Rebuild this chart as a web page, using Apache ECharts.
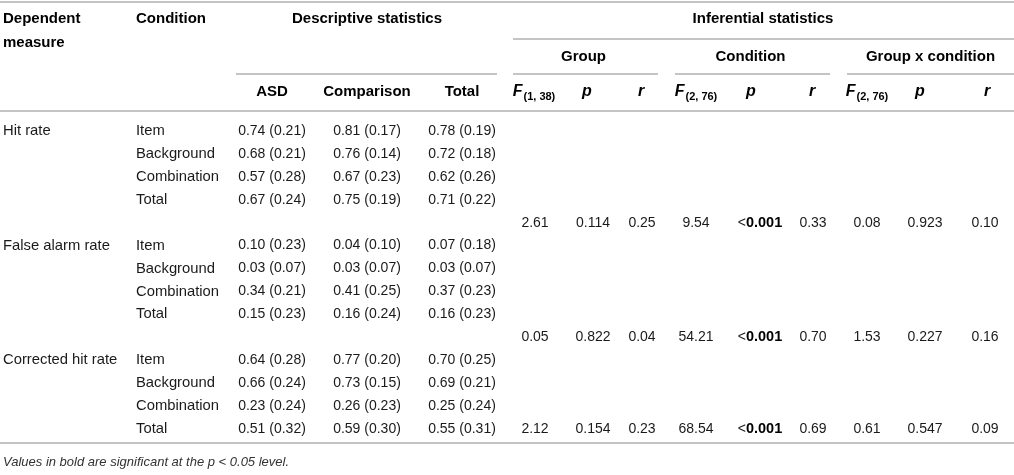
<!DOCTYPE html>
<html>
<head>
<meta charset="utf-8">
<script src="https://cdn.jsdelivr.net/npm/echarts@6/dist/echarts.min.js"></script>
<style>
  html, body { margin: 0; padding: 0; background: #fff; }
  #table { width: 1014px; height: 475px; }
</style>
</head>
<body>
<div id="table"></div>
<script>
// table values
var measures = ['Hit rate', 'False alarm rate', 'Corrected hit rate'];
var conditions = ['Item', 'Background', 'Combination', 'Total'];

// mean, sd per measure x condition
var asd = [
    [[0.74, 0.21], [0.68, 0.21], [0.57, 0.28], [0.67, 0.24]],
    [[0.10, 0.23], [0.03, 0.07], [0.34, 0.21], [0.15, 0.23]],
    [[0.64, 0.28], [0.66, 0.24], [0.23, 0.24], [0.51, 0.32]]
];
var comparison = [
    [[0.81, 0.17], [0.76, 0.14], [0.67, 0.23], [0.75, 0.19]],
    [[0.04, 0.10], [0.03, 0.07], [0.41, 0.25], [0.16, 0.24]],
    [[0.77, 0.20], [0.73, 0.15], [0.26, 0.23], [0.59, 0.30]]
];
var total = [
    [[0.78, 0.19], [0.72, 0.18], [0.62, 0.26], [0.71, 0.22]],
    [[0.07, 0.18], [0.03, 0.07], [0.37, 0.23], [0.16, 0.23]],
    [[0.70, 0.25], [0.69, 0.21], [0.25, 0.24], [0.55, 0.31]]
];

// F, p, r for group / condition / group x condition
var inferential = [
    ['2.61', '0.114', '0.25', '9.54', '<0.001', '0.33', '0.08', '0.923', '0.10'],
    ['0.05', '0.822', '0.04', '54.21', '<0.001', '0.70', '1.53', '0.227', '0.16'],
    ['2.12', '0.154', '0.23', '68.54', '<0.001', '0.69', '0.61', '0.547', '0.09']
];
var descHeaders = ['ASD', 'Comparison', 'Total'];
var effectHeaders = ['Group', 'Condition', 'Group x condition'];
var dfHeaders = ['(1, 38)', '(2, 76)', '(2, 76)'];
var footnote = 'Values in bold are significant at the p < 0.05 level.';

// layout
var FONT = '"Liberation Sans", Arial, Helvetica, sans-serif';
var LINE = '#c4c4c4';
var INK = '#1a1a1a';
var descX = [272, 367, 462];
var infX = [535, 593, 642, 696, 760, 813, 867, 925, 985];
var infHeadX = [534, 587, 641, 696, 751, 812, 867, 920, 987];
var effectSpan = [[513, 658], [675, 830], [847, 1014]];
var row0 = 131, rowStep = 22.92;
var infRow = [4, 9, 13];

var els = [];

function hline(x1, x2, y) {
    els.push({
        type: 'line',
        shape: { x1: x1, y1: y, x2: x2, y2: y },
        style: { stroke: LINE, lineWidth: 2 }
    });
}

function txt(s, x, y, align, opts) {
    opts = opts || {};
    els.push({
        type: 'text',
        x: x, y: y,
        style: {
            text: s,
            x: 0, y: 0,
            align: align,
            verticalAlign: 'middle',
            font: (opts.style || 'normal') + ' ' + (opts.weight || 'normal') + ' ' + (opts.size || 14) + 'px ' + FONT,
            fill: opts.color || INK
        }
    });
}

// rules
hline(0, 1014, 2);
hline(513, 1014, 39);
hline(236, 497, 74);
effectSpan.forEach(function (s) { hline(s[0], s[1], 74); });
hline(0, 1014, 111);
hline(0, 1014, 443);

// header
var hb = { weight: 'bold', color: '#000', size: 15 };
txt('Dependent', 3, 19, 'left', hb);
txt('measure', 3, 43, 'left', hb);
txt('Condition', 136, 19, 'left', hb);
txt('Descriptive statistics', 367, 19, 'center', hb);
txt('Inferential statistics', 763, 19, 'center', hb);
effectHeaders.forEach(function (h, i) {
    txt(h, (effectSpan[i][0] + effectSpan[i][1]) / 2 + (i === 2 ? 0 : -2), 57, 'center', hb);
});
descHeaders.forEach(function (h, i) { txt(h, descX[i], 92, 'center', hb); });

var fRich = {
    f: { fontFamily: FONT, fontSize: 16, fontWeight: 'bold', fontStyle: 'italic', fill: '#000', lineHeight: 18, verticalAlign: 'top' },
    s: { fontFamily: FONT, fontSize: 11, fontWeight: 'bold', fill: '#000', lineHeight: 18, verticalAlign: 'bottom', padding: [9, 0, 0, 1] }
};
for (var k = 0; k < 3; k++) {
    els.push({
        type: 'text',
        x: infHeadX[k * 3], y: 93,
        style: {
            text: '{f|F}{s|' + dfHeaders[k] + '}',
            align: 'center', verticalAlign: 'middle',
            rich: fRich
        }
    });
    txt('p', infHeadX[k * 3 + 1], 92, 'center', { weight: 'bold', style: 'italic', size: 16, color: '#000' });
    txt('r', infHeadX[k * 3 + 2], 92, 'center', { weight: 'bold', style: 'italic', size: 16, color: '#000' });
}

// body
function fmt(v) { return v[0].toFixed(2) + ' (' + v[1].toFixed(2) + ')'; }
var lab = { size: 14.8 };

measures.forEach(function (m, mi) {
    var base = mi * 5;
    txt(m, 3, row0 + base * rowStep, 'left', lab);
    conditions.forEach(function (c, ci) {
        var y = row0 + (base + ci) * rowStep;
        txt(c, 136, y, 'left', lab);
        txt(fmt(asd[mi][ci]), descX[0], y, 'center');
        txt(fmt(comparison[mi][ci]), descX[1], y, 'center');
        txt(fmt(total[mi][ci]), descX[2], y, 'center');
    });
    var yi = row0 + infRow[mi] * rowStep;
    inferential[mi].forEach(function (v, vi) {
        if (v.charAt(0) === '<') {
            els.push({
                type: 'text', x: infX[vi], y: yi,
                style: {
                    text: '{lt|<}{b|' + v.slice(1) + '}',
                    align: 'center', verticalAlign: 'middle',
                    rich: {
                        lt: { fontFamily: FONT, fontSize: 14, fill: INK },
                        b: { fontFamily: FONT, fontSize: 14.5, fontWeight: 'bold', fill: '#000' }
                    }
                }
            });
        } else {
            txt(v, infX[vi], yi, 'center');
        }
    });
});

txt(footnote, 3, 462, 'left', { style: 'italic', size: 13, color: '#333' });

var chart = echarts.init(document.getElementById('table'), null, { renderer: 'canvas' });
chart.setOption({
    backgroundColor: '#fff',
    animation: false,
    graphic: { elements: els }
});
</script>
</body>
</html>
